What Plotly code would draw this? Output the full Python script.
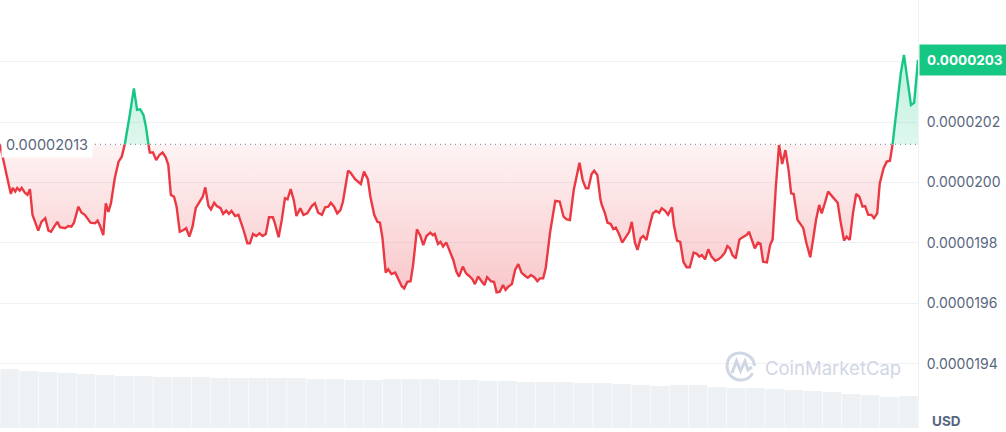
import plotly.graph_objects as go

# ---- price series (time in minutes over 24h, price in units of 1e-8 USD) ----
t_min = [
    0, 5, 11, 17, 20, 24, 27, 31, 34, 39,
    43, 47, 51, 55, 60, 65, 71, 76, 80, 85,
    90, 94, 102, 107, 112, 116, 123, 128, 133, 142,
    149, 153, 157, 162, 166, 170, 174, 180, 186, 191,
    196, 204, 210, 215, 220, 225, 229, 233, 235, 240,
    245, 250, 255, 260, 264, 268, 273, 277, 282, 288,
    292, 297, 302, 307, 314, 318, 322, 327, 331, 336,
    340, 346, 350, 355, 359, 363, 369, 374, 382, 388,
    392, 397, 402, 407, 412, 417, 422, 428, 431, 437,
    442, 447, 451, 456, 461, 465, 471, 476, 482, 489,
    494, 499, 505, 510, 515, 519, 524, 529, 534, 538,
    546, 550, 557, 566, 571, 577, 581, 587, 592, 596,
    600, 605, 609, 614, 620, 625, 630, 634, 639, 644,
    648, 654, 659, 664, 669, 675, 679, 682, 687, 691,
    695, 700, 705, 711, 716, 720, 726, 731, 736, 741,
    745, 750, 756, 760, 764, 770, 775, 779, 784, 789,
    793, 797, 803, 808, 813, 818, 824, 828, 833, 838,
    843, 847, 852, 856, 863, 871, 878, 884, 889, 894,
    900, 909, 914, 919, 923, 928, 932, 937, 942, 944,
    949, 953, 958, 962, 966, 971, 976, 982, 987, 991,
    996, 1000, 1005, 1009, 1014, 1018, 1024, 1029, 1034, 1038,
    1043, 1048, 1054, 1057, 1062, 1067, 1072, 1077, 1082, 1088,
    1093, 1097, 1101, 1106, 1111, 1116, 1122, 1127, 1132, 1137,
    1141, 1145, 1149, 1154, 1160, 1165, 1171, 1175, 1181, 1184,
    1189, 1193, 1197, 1203, 1208, 1212, 1217, 1222, 1227, 1232,
    1237, 1241, 1245, 1251, 1255, 1260, 1265, 1271, 1276, 1280,
    1285, 1289, 1294, 1299, 1305, 1310, 1314, 1319, 1324, 1328,
    1333, 1338, 1343, 1348, 1353, 1357, 1362, 1367, 1371, 1376,
    1380, 1386, 1391, 1396, 1400, 1407, 1413, 1418, 1423, 1429,
    1434, 1440,
]
price_e8 = [
    2012.6, 2007.4, 2001.9, 1996.2, 1998.2, 1997.0, 1998.2, 1997.3, 1998.2, 1996.6,
    1995.9, 1997.8, 1989.3, 1987.0, 1984.1, 1987.0, 1988.2, 1984.1, 1983.7, 1985.4,
    1987.0, 1985.2, 1984.9, 1985.6, 1985.4, 1986.7, 1992.0, 1990.0, 1989.3, 1986.7,
    1986.5, 1987.4, 1985.6, 1982.6, 1993.1, 1990.3, 1993.1, 2001.4, 2006.9, 2008.5,
    2012.9, 2022.9, 2031.1, 2024.0, 2024.2, 2022.3, 2018.4, 2012.4, 2009.9, 2009.9,
    2007.4, 2009.1, 2009.9, 2008.3, 2005.8, 1995.9, 1995.3, 1992.0, 1983.7, 1984.3,
    1984.9, 1982.1, 1985.4, 1991.5, 1994.2, 1995.3, 1998.4, 1992.2, 1991.1, 1993.3,
    1992.2, 1991.5, 1989.6, 1990.7, 1989.6, 1990.6, 1988.9, 1989.3, 1984.3, 1979.9,
    1979.9, 1983.0, 1982.3, 1983.2, 1982.3, 1983.0, 1988.5, 1988.5, 1986.7, 1981.9,
    1987.6, 1994.8, 1994.4, 1997.8, 1994.0, 1988.9, 1991.5, 1989.3, 1989.8, 1992.2,
    1993.1, 1990.0, 1989.3, 1991.8, 1992.0, 1993.3, 1992.0, 1989.8, 1990.9, 1993.7,
    2003.9, 2003.2, 2001.1, 1999.5, 2003.6, 2001.1, 1995.3, 1989.3, 1987.0, 1986.7,
    1981.6, 1970.2, 1971.3, 1969.7, 1970.2, 1968.0, 1965.8, 1965.0, 1967.2, 1967.4,
    1972.7, 1984.5, 1982.6, 1979.3, 1982.3, 1983.4, 1982.6, 1983.0, 1979.7, 1980.4,
    1978.8, 1980.2, 1977.7, 1974.4, 1970.5, 1968.9, 1972.2, 1970.0, 1969.1, 1968.0,
    1966.4, 1968.9, 1967.2, 1966.1, 1968.7, 1967.4, 1967.1, 1963.7, 1963.9, 1966.1,
    1964.5, 1965.5, 1966.4, 1971.1, 1973.0, 1970.2, 1969.1, 1968.5, 1969.4, 1968.7,
    1967.4, 1968.3, 1968.3, 1971.6, 1983.7, 1993.9, 1993.7, 1988.7, 1987.8, 1987.6,
    1997.5, 2006.5, 2000.8, 1998.1, 1998.1, 2002.8, 2003.9, 2002.5, 1994.2, 1992.6,
    1989.8, 1986.7, 1986.3, 1984.6, 1985.1, 1983.0, 1980.1, 1982.1, 1983.7, 1987.0,
    1980.1, 1977.7, 1981.6, 1982.3, 1981.0, 1984.9, 1989.8, 1990.6, 1990.0, 1991.5,
    1990.7, 1989.3, 1991.8, 1986.0, 1980.8, 1980.4, 1973.8, 1972.0, 1972.0, 1976.8,
    1976.4, 1975.5, 1976.0, 1974.6, 1977.9, 1975.5, 1974.1, 1974.6, 1975.5, 1976.8,
    1979.0, 1978.2, 1976.0, 1974.9, 1981.2, 1981.9, 1982.6, 1983.7, 1979.7, 1978.2,
    1980.1, 1979.7, 1973.8, 1973.6, 1979.3, 1981.2, 1998.6, 2012.4, 2006.1, 2010.7,
    2004.1, 1996.4, 1996.2, 1987.6, 1986.5, 1984.9, 1979.9, 1975.3, 1981.9, 1987.6,
    1992.6, 1989.8, 1993.3, 1997.0, 1995.5, 1994.2, 1993.3, 1986.5, 1980.8, 1982.1,
    1981.0, 1989.8, 1996.2, 1995.3, 1992.0, 1992.2, 1989.3, 1989.3, 1988.2, 1989.8,
    1999.7, 2004.7, 2006.9, 2007.2, 2012.4, 2025.1, 2036.1, 2042.2, 2035.0, 2025.6,
    2026.4, 2040.5,
]
ref_price_e8 = 2012.6          # opening price (dotted reference line)
ref_label = "0.00002013"
last_label = "0.0000203"

# ---- volume bars (30-minute buckets, arbitrary units) ----
vol_t = list(range(15, 1440, 30))
vol_m = [
    5.9, 5.7, 5.6, 5.5, 5.4, 5.3, 5.2, 5.2, 5.1, 5.1,
    5.1, 5.0, 5.0, 5.0, 5.0, 5.0, 4.9, 4.9, 4.8, 4.8,
    4.9, 4.9, 4.9, 4.8, 4.8, 4.7, 4.7, 4.6, 4.6, 4.6,
    4.5, 4.5, 4.4, 4.3, 4.2, 4.3, 4.3, 4.1, 4.0, 4.0,
    3.9, 3.8, 3.7, 3.6, 3.4, 3.3, 3.1, 3.2,
]

# ---- axis ticks ----
tick_vals_e8 = [1920, 1940, 1960, 1980, 2000, 2020, 2040, 2060]
tick_text = ["", "0.0000194", "0.0000196", "0.0000198", "0.0000200", "0.0000202", "", ""]
y_range_e8 = [1918.84, 2060.33]

S = 1e-8
RED = "#ea3943"
GREEN = "#16c784"
GRAY = "#58667e"
GRID = "#eff2f5"
FONT = "Inter, Roboto, sans-serif"

price = [v * S for v in price_e8]
ref = ref_price_e8 * S

# insert exact crossing points of the reference level so colours switch cleanly
xs, ys = [], []
for i, (t, p) in enumerate(zip(t_min, price)):
    if i > 0:
        p0, t0 = price[i - 1], t_min[i - 1]
        if (p0 - ref) * (p - ref) < 0:
            f = (ref - p0) / (p - p0)
            xs.append(t0 + f * (t - t0))
            ys.append(ref)
    xs.append(t)
    ys.append(p)

lower = [min(y, ref) for y in ys]
upper = [max(y, ref) for y in ys]
red_line = [y if y <= ref else None for y in ys]
green_line = [y if y >= ref else None for y in ys]
base = [ref] * len(xs)

fig = go.Figure()

fig.add_trace(go.Bar(x=vol_t, y=vol_m, yaxis="y2", marker=dict(color="#eef1f4", line=dict(width=0)),
                     hoverinfo="skip", showlegend=False))

fig.add_trace(go.Scatter(x=xs, y=base, mode="lines", line=dict(width=0), hoverinfo="skip", showlegend=False))
fig.add_trace(go.Scatter(x=xs, y=lower, mode="lines", line=dict(width=0), fill="tonexty",
                         fillgradient=dict(type="vertical",
                                           colorscale=[[0, "rgba(234,57,67,0.28)"], [1, "rgba(234,57,67,0.06)"]]),
                         hoverinfo="skip", showlegend=False))
fig.add_trace(go.Scatter(x=xs, y=base, mode="lines", line=dict(width=0), hoverinfo="skip", showlegend=False))
fig.add_trace(go.Scatter(x=xs, y=upper, mode="lines", line=dict(width=0), fill="tonexty",
                         fillgradient=dict(type="vertical",
                                           colorscale=[[0, "rgba(22,199,132,0.14)"], [1, "rgba(22,199,132,0.28)"]]),
                         hoverinfo="skip", showlegend=False))

fig.add_trace(go.Scatter(x=xs, y=red_line, mode="lines", line=dict(color=RED, width=2.4),
                         connectgaps=False, hoverinfo="skip", showlegend=False))
fig.add_trace(go.Scatter(x=xs, y=green_line, mode="lines", line=dict(color=GREEN, width=2.4),
                         connectgaps=False, hoverinfo="skip", showlegend=False))

# dotted reference line
fig.add_shape(type="line", xref="x", yref="y", x0=t_min[0], x1=t_min[-1], y0=ref, y1=ref,
              line=dict(color="#8c95a8", width=1.3, dash="1px,4px"))

# CoinMarketCap watermark logo (decorative)
PW, PH = 918.0, 428.0
def px(x):
    return x / PW
def py(y):
    return 1 - y / PH
wm = "#cfd6e4"
fig.add_shape(type="path", xref="paper", yref="paper",
              path=(f"M {px(752.5)},{py(373)} "
                    f"C {px(749)},{py(381)} {px(738)},{py(382)} {px(732)},{py(377)} "
                    f"C {px(724)},{py(370)} {px(726)},{py(356)} {px(736)},{py(353.5)} "
                    f"C {px(745)},{py(351.5)} {px(754)},{py(357)} {px(754.5)},{py(366)}"),
              line=dict(color=wm, width=3))
fig.add_shape(type="path", xref="paper", yref="paper",
              path=(f"M {px(732)},{py(373)} L {px(736.5)},{py(361)} L {px(740.5)},{py(371)} "
                    f"L {px(745)},{py(361)} L {px(748)},{py(370)} L {px(752)},{py(367)}"),
              line=dict(color=wm, width=3))

annotations = [
    dict(x=0, xref="paper", xanchor="left", xshift=1, y=ref, yref="y", yanchor="middle",
         text=ref_label, showarrow=False, font=dict(family=FONT, size=14.5, color=GRAY),
         bgcolor="white", borderpad=4),
    dict(x=1, xref="paper", xanchor="left", xshift=1, y=price[-1], yref="y", yanchor="middle",
         text=f"<b>{last_label}</b>", showarrow=False, font=dict(family=FONT, size=13.5, color="white"),
         bgcolor=GREEN, borderpad=7),
    dict(x=1, xref="paper", xanchor="left", xshift=12, y=(PH - 421) / PH, yref="paper", yanchor="middle",
         text="<b>USD</b>", showarrow=False, font=dict(family=FONT, size=13.5, color=GRAY)),
    dict(x=px(763), xref="paper", xanchor="left", y=py(368), yref="paper", yanchor="middle",
         text="CoinMarketCap", showarrow=False, font=dict(family=FONT, size=18.5, color=wm)),
]

fig.update_layout(
    width=1006, height=432,
    margin=dict(l=0, r=88, t=0, b=4),
    paper_bgcolor="white", plot_bgcolor="white",
    bargap=0.03,
    font=dict(family=FONT, color=GRAY),
    xaxis=dict(range=[t_min[0], t_min[-1]], visible=False, fixedrange=True),
    yaxis=dict(range=[v * S for v in y_range_e8], side="right",
               tickvals=[v * S for v in tick_vals_e8], ticktext=tick_text,
               showgrid=True, gridcolor=GRID, gridwidth=1, zeroline=False,
               showline=True, linecolor=GRID, linewidth=1,
               ticks="", ticklabelstandoff=5,
               tickfont=dict(family=FONT, size=14, color=GRAY)),
    yaxis2=dict(range=[0, 42.8], overlaying="y", visible=False, showgrid=False, fixedrange=True),
    annotations=annotations,
    showlegend=False,
)

fig.write_html("out.html", config={"displayModeBar": False},
               post_script="document.body.style.margin='0';document.body.style.overflow='hidden';")
